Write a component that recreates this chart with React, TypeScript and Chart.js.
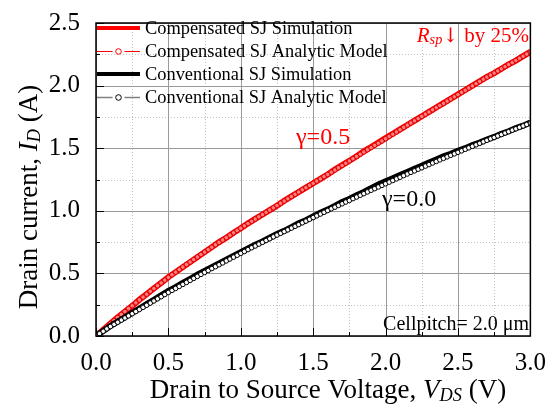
import React, { useEffect, useRef } from "react";
import { Chart, registerables } from "chart.js";
Chart.register(...registerables);

const FAMILY = "'Liberation Serif', 'DejaVu Serif', serif";

// simulation curves, V_DS in 0.05 V steps
const vds = [
  0, 0.05, 0.1, 0.15, 0.2, 0.25, 0.3, 0.35, 0.4, 0.45, 0.5, 0.55, 0.6, 0.65, 0.7, 0.75, 0.8, 0.85, 0.9, 0.95,
  1.0, 1.05, 1.1, 1.15, 1.2, 1.25, 1.3, 1.35, 1.4, 1.45, 1.5, 1.55, 1.6, 1.65, 1.7, 1.75, 1.8, 1.85, 1.9, 1.95,
  2.0, 2.05, 2.1, 2.15, 2.2, 2.25, 2.3, 2.35, 2.4, 2.45, 2.5, 2.55, 2.6, 2.65, 2.7, 2.75, 2.8, 2.85, 2.9, 2.95, 3.0,
];

const compSim = [
  0, 0.05, 0.1, 0.15, 0.195, 0.24, 0.29, 0.335, 0.38, 0.425, 0.47, 0.51, 0.55, 0.59, 0.63, 0.67, 0.71, 0.75, 0.785, 0.825,
  0.86, 0.9, 0.935, 0.97, 1.005, 1.04, 1.08, 1.115, 1.15, 1.185, 1.22, 1.255, 1.29, 1.33, 1.365, 1.4, 1.435, 1.475, 1.51, 1.545,
  1.58, 1.615, 1.65, 1.685, 1.72, 1.755, 1.79, 1.825, 1.86, 1.895, 1.93, 1.965, 2.0, 2.035, 2.07, 2.1, 2.135, 2.17, 2.2, 2.235, 2.27,
];

const convSim = [
  0, 0.04, 0.08, 0.115, 0.15, 0.185, 0.22, 0.255, 0.29, 0.325, 0.36, 0.39, 0.425, 0.455, 0.49, 0.52, 0.55, 0.58, 0.61, 0.64,
  0.67, 0.7, 0.73, 0.755, 0.785, 0.815, 0.84, 0.87, 0.9, 0.925, 0.955, 0.985, 1.01, 1.04, 1.07, 1.095, 1.125, 1.15, 1.18, 1.21,
  1.235, 1.26, 1.285, 1.31, 1.335, 1.36, 1.385, 1.41, 1.435, 1.455, 1.48, 1.5, 1.525, 1.545, 1.57, 1.59, 1.615, 1.635, 1.66, 1.68, 1.705,
];

// analytic model, V_DS in 0.025 V steps
const vdsModel = [
  0, 0.025, 0.05, 0.075, 0.1, 0.125, 0.15, 0.175, 0.2, 0.225, 0.25, 0.275, 0.3, 0.325, 0.35, 0.375, 0.4, 0.425, 0.45, 0.475,
  0.5, 0.525, 0.55, 0.575, 0.6, 0.625, 0.65, 0.675, 0.7, 0.725, 0.75, 0.775, 0.8, 0.825, 0.85, 0.875, 0.9, 0.925, 0.95, 0.975,
  1.0, 1.025, 1.05, 1.075, 1.1, 1.125, 1.15, 1.175, 1.2, 1.225, 1.25, 1.275, 1.3, 1.325, 1.35, 1.375, 1.4, 1.425, 1.45, 1.475,
  1.5, 1.525, 1.55, 1.575, 1.6, 1.625, 1.65, 1.675, 1.7, 1.725, 1.75, 1.775, 1.8, 1.825, 1.85, 1.875, 1.9, 1.925, 1.95, 1.975,
  2.0, 2.025, 2.05, 2.075, 2.1, 2.125, 2.15, 2.175, 2.2, 2.225, 2.25, 2.275, 2.3, 2.325, 2.35, 2.375, 2.4, 2.425, 2.45, 2.475,
  2.5, 2.525, 2.55, 2.575, 2.6, 2.625, 2.65, 2.675, 2.7, 2.725, 2.75, 2.775, 2.8, 2.825, 2.85, 2.875, 2.9, 2.925, 2.95, 2.975, 3.0,
];

const compModel = [
  0, 0.025, 0.05, 0.075, 0.1, 0.124, 0.148, 0.172, 0.195, 0.219, 0.242, 0.265, 0.288, 0.311, 0.334, 0.357, 0.379, 0.402, 0.424, 0.446,
  0.468, 0.489, 0.51, 0.531, 0.551, 0.571, 0.591, 0.611, 0.631, 0.651, 0.67, 0.69, 0.709, 0.729, 0.748, 0.767, 0.786, 0.805, 0.824, 0.843,
  0.861, 0.88, 0.898, 0.916, 0.934, 0.952, 0.97, 0.988, 1.006, 1.024, 1.042, 1.06, 1.078, 1.096, 1.114, 1.132, 1.15, 1.168, 1.185, 1.203,
  1.22, 1.238, 1.255, 1.273, 1.29, 1.308, 1.326, 1.344, 1.362, 1.38, 1.398, 1.416, 1.434, 1.452, 1.47, 1.488, 1.505, 1.523, 1.54, 1.558,
  1.576, 1.594, 1.612, 1.63, 1.648, 1.666, 1.684, 1.702, 1.719, 1.737, 1.754, 1.772, 1.789, 1.807, 1.824, 1.841, 1.858, 1.876, 1.893, 1.911,
  1.928, 1.946, 1.963, 1.981, 1.998, 2.016, 2.033, 2.051, 2.068, 2.084, 2.1, 2.117, 2.134, 2.151, 2.168, 2.185, 2.201, 2.218, 2.235, 2.252, 2.268,
];

const convModel = [
  0, 0.019, 0.038, 0.057, 0.076, 0.093, 0.11, 0.127, 0.144, 0.161, 0.178, 0.195, 0.212, 0.229, 0.246, 0.263, 0.28, 0.297, 0.314, 0.331,
  0.348, 0.364, 0.38, 0.396, 0.412, 0.428, 0.444, 0.46, 0.476, 0.492, 0.508, 0.523, 0.539, 0.554, 0.569, 0.584, 0.6, 0.615, 0.63, 0.645,
  0.66, 0.675, 0.69, 0.705, 0.719, 0.734, 0.748, 0.763, 0.777, 0.792, 0.806, 0.82, 0.834, 0.848, 0.862, 0.876, 0.89, 0.904, 0.918, 0.932,
  0.946, 0.96, 0.974, 0.988, 1.002, 1.016, 1.029, 1.043, 1.056, 1.07, 1.083, 1.097, 1.11, 1.124, 1.137, 1.151, 1.164, 1.177, 1.19, 1.203,
  1.216, 1.229, 1.242, 1.255, 1.268, 1.281, 1.294, 1.307, 1.319, 1.332, 1.344, 1.357, 1.369, 1.382, 1.394, 1.407, 1.419, 1.431, 1.443, 1.455,
  1.467, 1.479, 1.491, 1.503, 1.515, 1.527, 1.539, 1.551, 1.563, 1.575, 1.586, 1.598, 1.609, 1.621, 1.632, 1.644, 1.655, 1.667, 1.678, 1.69, 1.701,
];

const xTicks = [0, 0.5, 1.0, 1.5, 2.0, 2.5, 3.0];
const yTicks = [0, 0.5, 1.0, 1.5, 2.0, 2.5];
const xMinor = [0.25, 0.75, 1.25, 1.75, 2.25, 2.75];
const yMinor = [0.25, 0.75, 1.25, 1.75, 2.25];

const legendLabels = [
  "Compensated SJ Simulation",
  "Compensated SJ Analytic Model",
  "Conventional SJ Simulation",
  "Conventional SJ Analytic Model",
];

type Part = { t: string; italic?: boolean; sub?: boolean; family?: string; scale?: number };

function drawRich(
  ctx: CanvasRenderingContext2D,
  parts: Part[],
  x: number,
  y: number,
  size: number,
  align: "left" | "center" | "right",
  color: string
) {
  const fontFor = (p: Part) => {
    const sz = (p.sub ? size * 0.68 : size) * (p.scale || 1);
    return `${p.italic ? "italic " : ""}${sz}px ${p.family || FAMILY}`;
  };
  let total = 0;
  const widths = parts.map((p) => {
    ctx.font = fontFor(p);
    const w = ctx.measureText(p.t).width;
    total += w;
    return w;
  });
  let cx = align === "left" ? x : align === "center" ? x - total / 2 : x - total;
  ctx.fillStyle = color;
  ctx.textBaseline = "alphabetic";
  ctx.textAlign = "left";
  parts.forEach((p, i) => {
    ctx.font = fontFor(p);
    ctx.fillText(p.t, cx, p.sub ? y + size * 0.1 : y);
    cx += widths[i];
  });
}

const decorPlugin = {
  id: "decor",
  beforeDatasetsDraw(chart: any) {
    const { ctx, chartArea: a, scales } = chart;
    const xs = scales.x;
    const ys = scales.y;
    const vLine = (v: number, y0: number, y1: number) => {
      const px = Math.round(xs.getPixelForValue(v)) + 0.5;
      ctx.beginPath();
      ctx.moveTo(px, y0);
      ctx.lineTo(px, y1);
      ctx.stroke();
    };
    const hLine = (v: number, x0: number, x1: number) => {
      const py = Math.round(ys.getPixelForValue(v)) + 0.5;
      ctx.beginPath();
      ctx.moveTo(x0, py);
      ctx.lineTo(x1, py);
      ctx.stroke();
    };
    ctx.save();
    ctx.strokeStyle = "#c4c4c4";
    ctx.lineWidth = 1;
    ctx.setLineDash([1, 2]);
    xMinor.forEach((v) => vLine(v, a.top, a.bottom));
    yMinor.forEach((v) => hLine(v, a.left, a.right));
    ctx.setLineDash([]);
    ctx.strokeStyle = "#9a9a9a";
    xTicks.forEach((v) => vLine(v, a.top, a.bottom));
    yTicks.forEach((v) => hLine(v, a.left, a.right));
    ctx.strokeStyle = "#000";
    xTicks.forEach((v) => vLine(v, a.bottom, a.bottom - 8));
    xMinor.forEach((v) => vLine(v, a.bottom, a.bottom - 4));
    yTicks.forEach((v) => hLine(v, a.left, a.left + 8));
    yMinor.forEach((v) => hLine(v, a.left, a.left + 4));
    ctx.restore();
  },
  afterDatasetsDraw(chart: any) {
    const { ctx, chartArea: a } = chart;
    ctx.save();
    ctx.strokeStyle = "#000";
    ctx.lineWidth = 1.5;
    ctx.strokeRect(a.left, a.top, a.right - a.left, a.bottom - a.top);
    ctx.restore();
  },
  afterDraw(chart: any) {
    const { ctx, chartArea: a } = chart;
    ctx.save();
    ctx.save();
    ctx.translate(37, 197);
    ctx.rotate(-Math.PI / 2);
    drawRich(
      ctx,
      [{ t: "Drain current, " }, { t: "I", italic: true }, { t: "D", italic: true, sub: true }, { t: " (A)" }],
      0,
      0,
      27,
      "center",
      "#000"
    );
    ctx.restore();
    drawRich(
      ctx,
      [
        { t: "Drain to Source Voltage, " },
        { t: "V", italic: true },
        { t: "DS", italic: true, sub: true },
        { t: " (V)" },
      ],
      328,
      398,
      27,
      "center",
      "#000"
    );

    // legend
    const rows = [28, 51, 74, 97];
    const lx0 = a.left + 1;
    const lx1 = a.left + 44;
    const mid = (lx0 + lx1) / 2;
    ctx.lineCap = "butt";
    ctx.strokeStyle = "#ff0000";
    ctx.lineWidth = 4;
    ctx.beginPath();
    ctx.moveTo(lx0, rows[0]);
    ctx.lineTo(lx1, rows[0]);
    ctx.stroke();
    ctx.lineWidth = 1;
    ctx.beginPath();
    ctx.moveTo(lx0, rows[1] + 0.5);
    ctx.lineTo(mid - 6, rows[1] + 0.5);
    ctx.moveTo(mid + 6, rows[1] + 0.5);
    ctx.lineTo(lx1, rows[1] + 0.5);
    ctx.stroke();
    ctx.beginPath();
    ctx.arc(mid, rows[1] + 0.5, 2.8, 0, Math.PI * 2);
    ctx.fillStyle = "#fff";
    ctx.fill();
    ctx.stroke();
    ctx.strokeStyle = "#000";
    ctx.lineWidth = 4;
    ctx.beginPath();
    ctx.moveTo(lx0, rows[2]);
    ctx.lineTo(lx1, rows[2]);
    ctx.stroke();
    ctx.strokeStyle = "#808080";
    ctx.lineWidth = 1.5;
    ctx.beginPath();
    ctx.moveTo(lx0, rows[3] + 0.5);
    ctx.lineTo(mid - 6, rows[3] + 0.5);
    ctx.moveTo(mid + 6, rows[3] + 0.5);
    ctx.lineTo(lx1, rows[3] + 0.5);
    ctx.stroke();
    ctx.strokeStyle = "#000";
    ctx.lineWidth = 1;
    ctx.beginPath();
    ctx.arc(mid, rows[3] + 0.5, 2.8, 0, Math.PI * 2);
    ctx.fillStyle = "#fff";
    ctx.fill();
    ctx.stroke();
    ctx.fillStyle = "#000";
    ctx.font = `18.4px ${FAMILY}`;
    ctx.textAlign = "left";
    ctx.textBaseline = "middle";
    legendLabels.forEach((lab, i) => {
      ctx.fillText(lab, a.left + 49, rows[i] + 1);
    });

    // annotations
    drawRich(ctx, [{ t: "γ=0.5" }], 296, 144, 24, "left", "#ff0000");
    drawRich(ctx, [{ t: "γ=0.0" }], 382, 206, 24, "left", "#000");
    drawRich(
      ctx,
      [
        { t: "R", italic: true },
        { t: "sp", italic: true, sub: true },
        { t: "↓", family: "'DejaVu Serif', serif", scale: 0.95 },
        { t: " by 25%" },
      ],
      529,
      42,
      21,
      "right",
      "#ff0000"
    );
    drawRich(ctx, [{ t: "Cellpitch= 2.0 μm" }], 529, 330, 20, "right", "#000");
    ctx.restore();
  },
};

export default function App() {
  const ref = useRef<HTMLCanvasElement | null>(null);
  useEffect(() => {
    if (!ref.current) return;
    const mk = (xs: number[], arr: number[]) => xs.map((x, i) => ({ x, y: arr[i] }));
    const chart = new Chart(ref.current, {
      type: "line",
      data: {
        datasets: [
          {
            label: legendLabels[0],
            data: mk(vds, compSim),
            borderColor: "#ff0000",
            borderWidth: 6,
            pointRadius: 0,
            order: 3,
          },
          {
            label: legendLabels[1],
            data: mk(vdsModel, compModel),
            borderColor: "#ff0000",
            borderWidth: 1,
            pointRadius: 2.3,
            pointBorderWidth: 1,
            pointBorderColor: "#e00000",
            pointBackgroundColor: "rgba(255,140,140,0.9)",
            order: 2,
          },
          {
            label: legendLabels[2],
            data: mk(vds, convSim),
            borderColor: "#000",
            borderWidth: 6,
            pointRadius: 0,
            order: 1,
          },
          {
            label: legendLabels[3],
            data: mk(vdsModel, convModel),
            borderColor: "#808080",
            borderWidth: 1,
            pointRadius: 2.3,
            pointBorderWidth: 1,
            pointBorderColor: "#000",
            pointBackgroundColor: "#fff",
            order: 0,
          },
        ],
      },
      options: {
        animation: false,
        responsive: false,
        events: [],
        layout: { padding: { top: 16, right: 18, left: 0, bottom: 0 } },
        plugins: { legend: { display: false }, tooltip: { enabled: false } },
        scales: {
          x: {
            type: "linear",
            min: 0,
            max: 3,
            grid: { display: false },
            border: { display: false },
            afterBuildTicks: (s: any) => {
              s.ticks = xTicks.map((v) => ({ value: v }));
            },
            afterFit: (s: any) => {
              s.height = 70;
            },
            ticks: {
              padding: 4,
              color: "#000",
              font: { family: FAMILY, size: 25 },
              maxRotation: 0,
              callback: (v: any) => Number(v).toFixed(1),
            },
          },
          y: {
            type: "linear",
            min: 0,
            max: 2.5,
            grid: { display: false },
            border: { display: false },
            afterBuildTicks: (s: any) => {
              s.ticks = yTicks.map((v) => ({ value: v }));
            },
            afterFit: (s: any) => {
              s.width = 96;
            },
            ticks: {
              padding: 8,
              color: "#000",
              font: { family: FAMILY, size: 25 },
              callback: (v: any) => Number(v).toFixed(1),
            },
          },
        },
      },
      plugins: [decorPlugin],
    });
    return () => chart.destroy();
  }, []);
  return (
    <div style={{ position: "absolute", left: 0, top: 0, width: 550, height: 406, background: "#fff" }}>
      <canvas ref={ref} width={550} height={406} style={{ display: "block" }} />
    </div>
  );
}
